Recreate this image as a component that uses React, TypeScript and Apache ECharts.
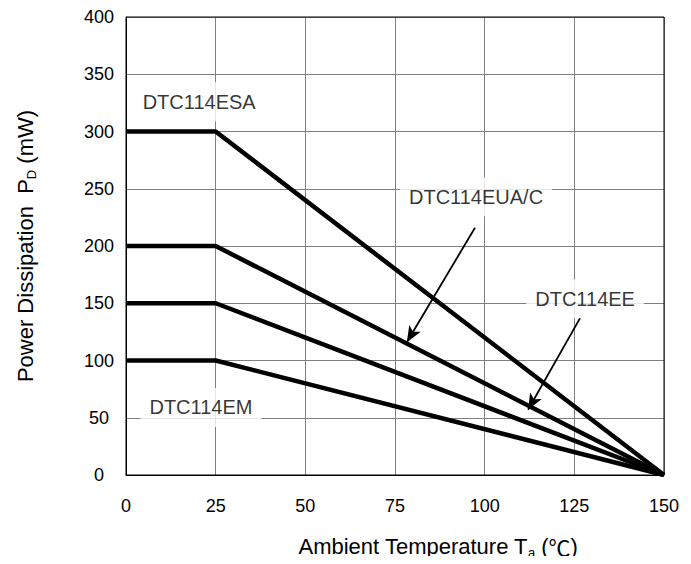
import React, { useEffect, useRef } from "react";
import * as echarts from "echarts";

const xTicks = [0, 25, 50, 75, 100, 125, 150];
const yTicks = [0, 50, 100, 150, 200, 250, 300, 350, 400];

// Derating curves: [Ta, Pd]
const curveESA = [[0, 300], [25, 300], [150, 0]];
const curve200 = [[0, 200], [25, 200], [150, 0]];
const curve150 = [[0, 150], [25, 150], [150, 0]];
const curveEM = [[0, 100], [25, 100], [150, 0]];

// label anchors (data coordinates)
const labelNames = ["DTC114ESA", "DTC114EUA/C", "DTC114EE", "DTC114EM"];
const labelPos = [[20.4, 326], [97.6, 243], [128, 154], [20.9, 59]];

// arrows: [tail, tip]
const arrowEUA = [[97.3, 216], [78.3, 116]];
const arrowEE = [[126.6, 137], [112.1, 57]];

const FONT = "Liberation Sans, Arial, sans-serif";

export default function App() {
  const ref = useRef<HTMLDivElement>(null);
  useEffect(() => {
    const chart = echarts.init(ref.current!, null, { renderer: "svg" });
    const lineSeries = (data: number[][]) => ({
      type: "line",
      data,
      symbol: "none",
      lineStyle: { color: "#000", width: 4.5 },
      silent: true,
      z: 3,
    });
    chart.setOption({
      animation: false,
      backgroundColor: "#fff",
      grid: { left: 126, right: 27, top: 17, bottom: 89 },
      xAxis: {
        type: "value",
        min: 0,
        max: 150,
        interval: 25,
        axisLine: { show: true, lineStyle: { color: "#000", width: 1 } },
        axisTick: { show: false },
        axisLabel: { color: "#000", fontSize: 18, fontFamily: FONT, margin: 22 },
        splitLine: { show: true, lineStyle: { color: "#808080", width: 1 } },
      },
      yAxis: {
        type: "value",
        min: 0,
        max: 400,
        interval: 50,
        axisLine: { show: true, lineStyle: { color: "#000", width: 1 } },
        axisTick: { show: false },
        axisLabel: { color: "#000", fontSize: 18, fontFamily: FONT, margin: 27, align: "center" },
        splitLine: { show: true, lineStyle: { color: "#808080", width: 1 } },
        name: "{a|Power Dissipation  P}{s|D}{a| (mW)}",
        nameLocation: "middle",
        nameGap: 88,
        nameRotate: 90,
        nameTextStyle: {
          rich: {
            a: { fontSize: 22, lineHeight: 26, fontFamily: FONT, color: "#000" },
            s: { fontSize: 13, lineHeight: 13, fontFamily: FONT, color: "#000", verticalAlign: "bottom" },
          },
        },
      },
      graphic: [
        {
          type: "rect",
          shape: { x: 126, y: 17, width: 538, height: 458 },
          style: { fill: "none", stroke: "#000", lineWidth: 1 },
          silent: true,
          z: 10,
        },
        {
          type: "text",
          x: 438,
          y: 546,
          style: {
            text: "{a|Ambient Temperature T}{s|a}{a| (}{c|℃}{a|)}",
            align: "center",
            verticalAlign: "middle",
            rich: {
              a: { fontSize: 22, lineHeight: 26, fontFamily: FONT, fill: "#000" },
              c: { fontSize: 22, lineHeight: 26, fontFamily: "Noto Sans CJK SC, sans-serif", fill: "#000" },
              s: { fontSize: 13, lineHeight: 13, fontFamily: FONT, fill: "#000", verticalAlign: "bottom" },
            },
          },
        },
      ],
      series: [
        lineSeries(curveESA),
        lineSeries(curve200),
        lineSeries(curve150),
        lineSeries(curveEM),
        {
          type: "scatter",
          data: labelPos.map((p, i) => ({ value: p, name: labelNames[i] })),
          symbolSize: 0,
          silent: true,
          z: 5,
          label: {
            show: true,
            position: "inside",
            formatter: (p: any) => p.name,
            color: "#000",
            fontSize: 20,
            fontFamily: FONT,
            backgroundColor: "#fff",
            padding: [10, 9, 9, 9],
          },
        },
        {
          type: "line",
          data: [],
          silent: true,
          markLine: {
            silent: true,
            symbol: ["none", "arrow"],
            symbolSize: [10, 16],
            label: { show: false },
            lineStyle: { color: "#000", width: 1.8, type: "solid" },
            data: [
              [{ coord: arrowEUA[0] }, { coord: arrowEUA[1] }],
              [{ coord: arrowEE[0] }, { coord: arrowEE[1] }],
            ],
          },
        },
      ],
    });
    return () => chart.dispose();
  }, []);
  return <div ref={ref} style={{ width: 691, height: 564, margin: -8 }} />;
}
